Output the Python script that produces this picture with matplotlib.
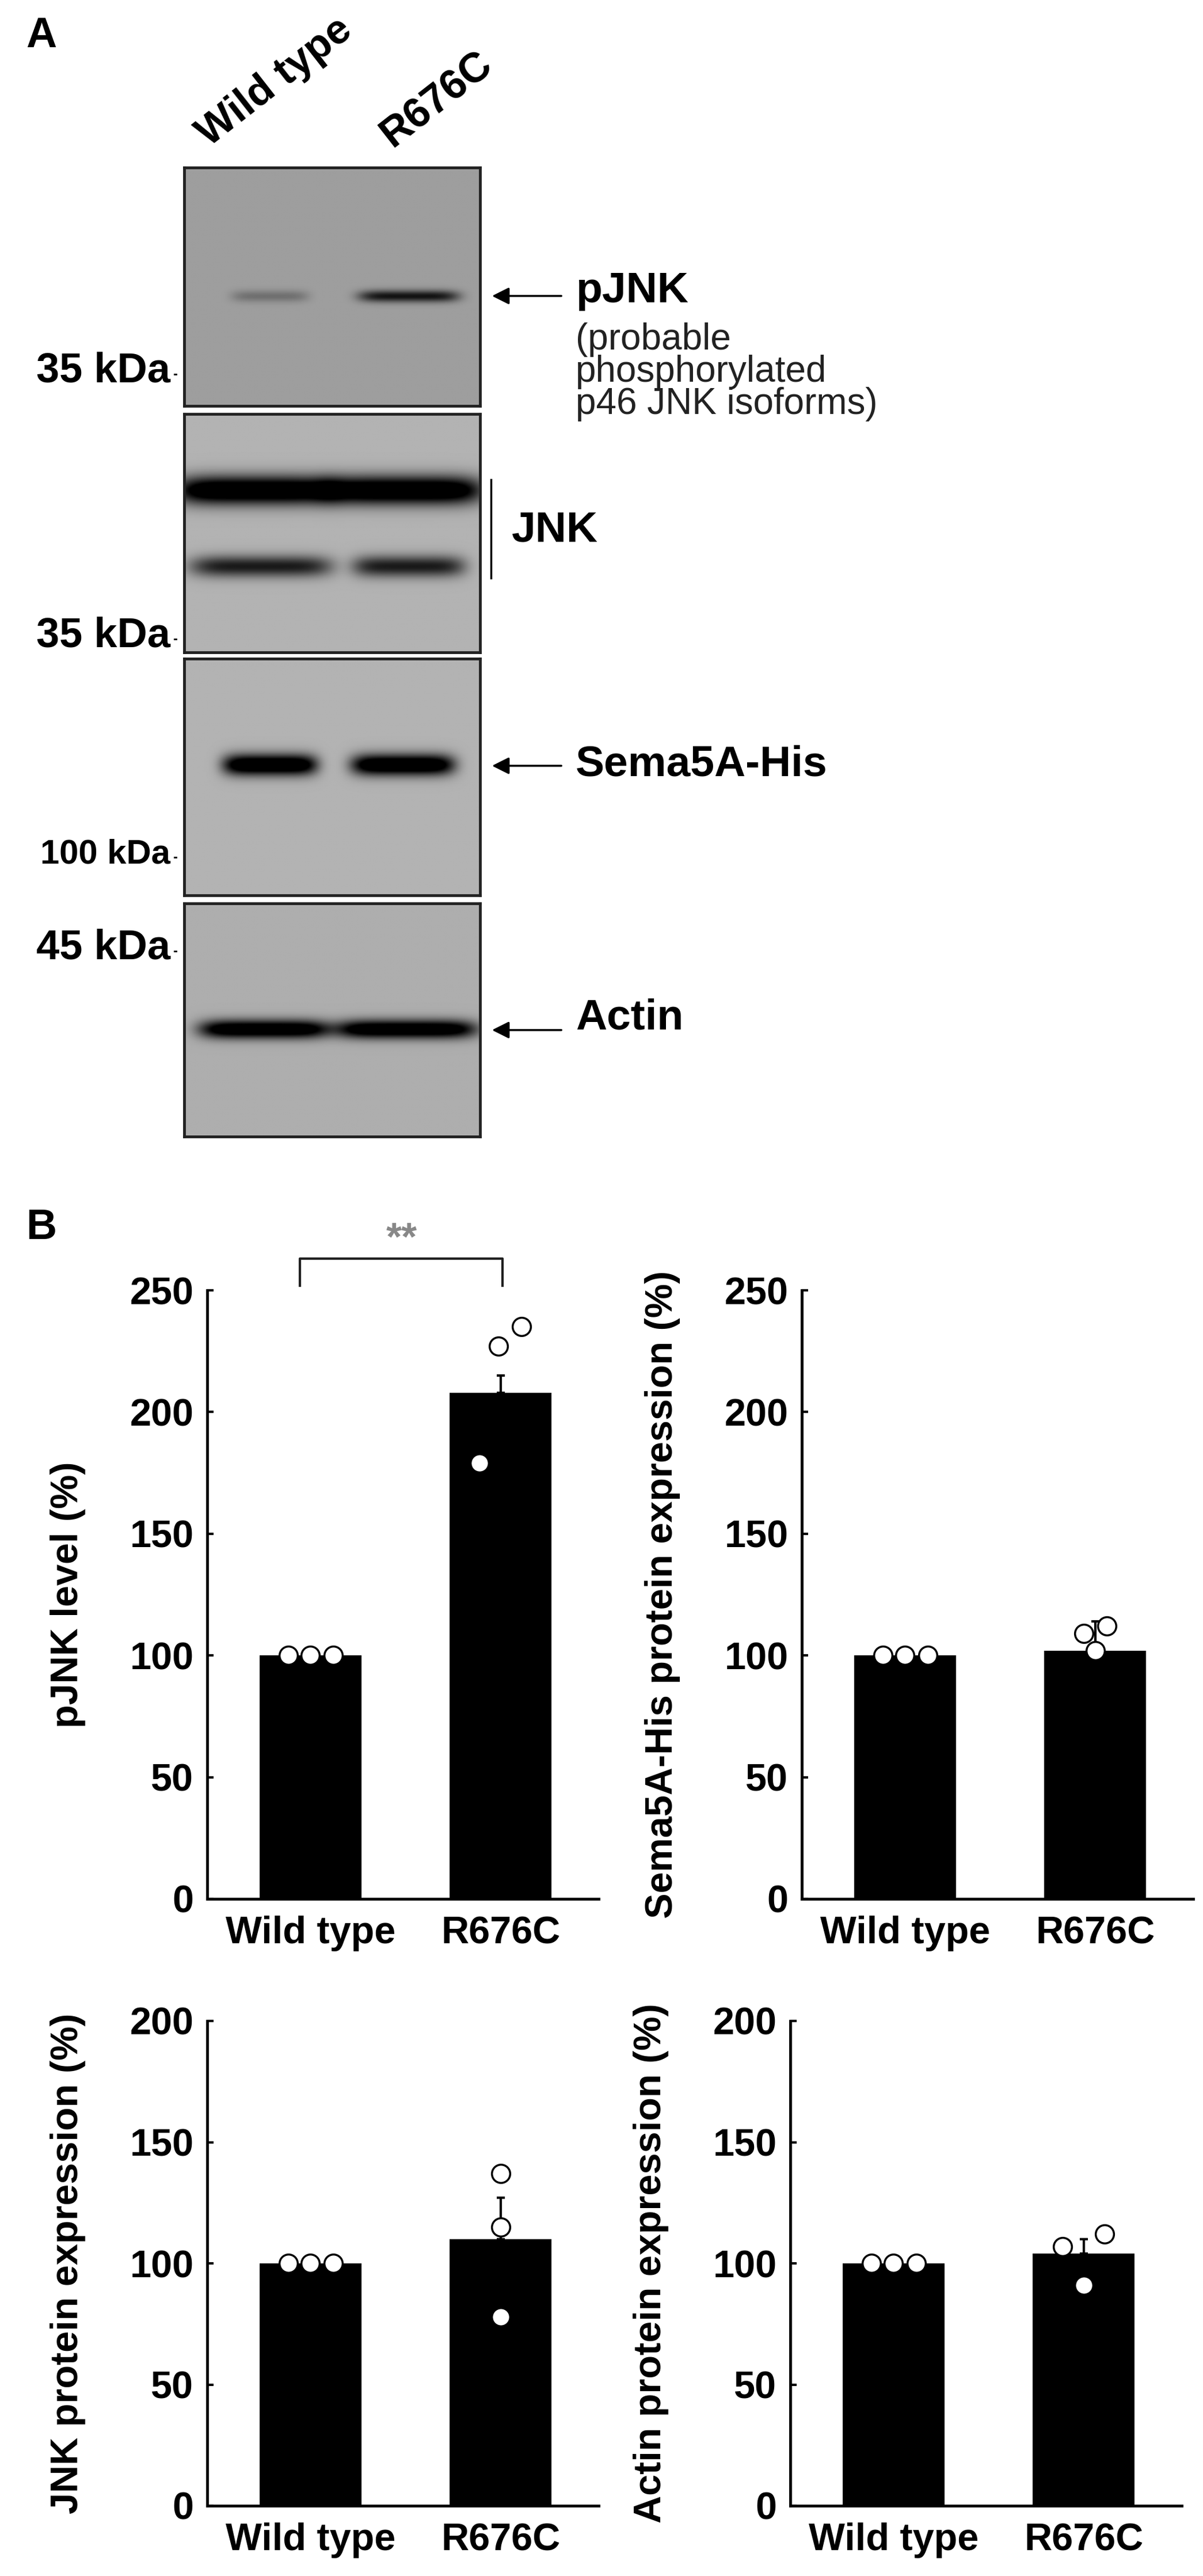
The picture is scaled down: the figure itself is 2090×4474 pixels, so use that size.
import numpy as np
import matplotlib
matplotlib.use("Agg")
import matplotlib.pyplot as plt

plt.rcParams['font.family'] = ['Liberation Sans', 'DejaVu Sans']

groups = ["Wild type", "R676C"]
pjnk_mean = [100, 208]; pjnk_err = [0, 7]
pjnk_pts = [[100, 100, 100], [179, 227, 235]]
sema_mean = [100, 102]; sema_err = [0, 12]
sema_pts = [[100, 100, 100], [109, 102, 112]]
jnk_mean = [100, 110]; jnk_err = [0, 17]
jnk_pts = [[100, 100, 100], [78, 115, 137]]
actin_mean = [100, 104]; actin_err = [0, 6]
actin_pts = [[100, 100, 100], [107, 91, 112]]
wt_offsets = [-0.115, 0.0, 0.12]
pjnk_offsets = [-0.11, -0.01, 0.11]
sema_offsets = [-0.06, 0.0, 0.06]
jnk_offsets = [0.0, 0.0, 0.0]
actin_offsets = [-0.11, 0.0, 0.11]

W, H = 2090.0, 4474.0
fig = plt.figure(figsize=(20.9, 44.74), dpi=100)

def ax_at(x0, y0, x1, y1, **kw):
    return fig.add_axes([x0 / W, 1 - y1 / H, (x1 - x0) / W, (y1 - y0) / H], **kw)

ov = ax_at(0, 0, W, H)
ov.set_xlim(0, W); ov.set_ylim(H, 0); ov.axis('off')
ov.set_zorder(5)

ov.text(45, 63, "A", fontsize=53, fontweight='bold', va='center')
ov.text(45, 2133, "B", fontsize=53, fontweight='bold', va='center')

# lane labels
ov.text(372, 268, "Wild type", rotation=38, fontsize=52, fontweight='bold', ha='left', va='bottom',
        rotation_mode='anchor')
ov.text(690, 268, "R676C", rotation=38, fontsize=52, fontweight='bold', ha='left', va='bottom',
        rotation_mode='anchor')

# blot panels
xg = np.linspace(0, 1, 400)
def blot(y0, y1, bg, bands):
    a = ax_at(320, y0, 834, y1)
    ny = 300
    yy = np.linspace(0, 1, ny)[:, None]
    img = np.full((ny, 400), bg)
    for (yc, sy, lanes) in bands:
        for (xc, sx, amp) in lanes:
            prof = np.exp(-((xg[None, :] - xc) / sx) ** 6)
            img -= amp * prof * np.exp(-((yy - yc) / sy) ** 2)
    a.imshow(np.clip(img, 0, 1), cmap='gray', vmin=0, vmax=1, aspect='auto', extent=[0, 1, 1, 0],
             interpolation='bilinear')
    a.set_xticks([]); a.set_yticks([])
    for s in a.spines.values():
        s.set_linewidth(3.5); s.set_color('#222')
    return a

blot(291, 705, 0.62, [(0.54, 0.025, [(0.29, 0.13, 0.18), (0.76, 0.17, 0.55)])])
blot(719, 1133, 0.70, [(0.32, 0.06, [(0.24, 0.27, 0.95), (0.74, 0.27, 0.95)]),
                       (0.64, 0.045, [(0.26, 0.24, 0.6), (0.76, 0.19, 0.6)])])
blot(1144, 1555, 0.70, [(0.45, 0.045, [(0.29, 0.16, 0.95), (0.74, 0.175, 0.95)])])
blot(1569, 1974, 0.68, [(0.54, 0.04, [(0.27, 0.22, 0.9), (0.75, 0.24, 0.9)])])

# kDa markers
def kda(y, txt, fs):
    ov.text(296, y, txt, fontsize=fs, fontweight='bold', ha='right', va='center')
    ov.plot([303, 306], [y + 5, y + 5], color='k', lw=2)
kda(645, "35 kDa", 52)
kda(1105, "35 kDa", 52)
kda(1484, "100 kDa", 43)
kda(1647, "45 kDa", 52)

def arrow(y, ty, txt):
    ov.annotate("", xy=(852, y), xytext=(978, y),
                arrowprops=dict(arrowstyle='-|>', color='k', lw=2.5, mutation_scale=45))
    ov.text(1000, ty, txt, fontsize=54, fontweight='bold', ha='left', va='center')
arrow(514, 505, "pJNK")
ov.text(1000, 560, "(probable\nphosphorylated\np46 JNK isoforms)", fontsize=46, ha='left', va='top',
        linespacing=0.92, color='#222')
ov.plot([853, 853], [833, 1004], color='k', lw=2.5)
ov.text(889, 921, "JNK", fontsize=54, fontweight='bold', ha='left', va='center')
arrow(1330, 1328, "Sema5A-His")
arrow(1789, 1768, "Actin")

# bar charts
def bars(box, means, errs, pts, offs, ymax, ylabel):
    a = ax_at(*box)
    x = np.arange(len(groups))
    a.bar(x, means, width=0.535, color='k', zorder=2)
    a.errorbar(x, means, yerr=[np.zeros(len(errs)), errs], fmt='none', ecolor='k',
               elinewidth=3, capsize=5, capthick=3, zorder=1)
    for i, p in enumerate(pts):
        o = wt_offsets if i == 0 else offs
        a.scatter(np.array(o) + i, p, s=520, facecolor='white', edgecolor='k',
                  linewidth=2.5, zorder=3, clip_on=False)
    a.set_xlim(-0.542, 1.515)
    a.set_ylim(0, ymax)
    a.set_yticks(np.arange(0, ymax + 1, 50))
    a.set_xticks(x)
    a.set_xticklabels(groups)
    for s in ['top', 'right']:
        a.spines[s].set_visible(False)
    a.spines['left'].set_linewidth(3.5)
    a.spines['bottom'].set_linewidth(3.5)
    a.tick_params(axis='y', direction='in', width=3, length=8, pad=17)
    a.tick_params(axis='x', length=0, pad=21)
    for lab in a.get_xticklabels() + a.get_yticklabels():
        lab.set_fontweight('bold')
        lab.set_fontsize(48)
    a.set_ylabel(ylabel, fontsize=48, fontweight='bold')
    a.yaxis.set_label_coords(-0.31, 0.5)
    a.patch.set_alpha(0)
    return a

a1 = bars((360, 2241, 1040, 3298), pjnk_mean, pjnk_err, pjnk_pts, pjnk_offsets, 250, "pJNK level (%)")
bars((1393, 2241, 2073, 3298), sema_mean, sema_err, sema_pts, sema_offsets, 250,
     "Sema5A-His protein expression (%)")
bars((360, 3510, 1040, 4352), jnk_mean, jnk_err, jnk_pts, jnk_offsets, 200, "JNK protein expression (%)")
bars((1373, 3510, 2053, 4352), actin_mean, actin_err, actin_pts, actin_offsets, 200,
     "Actin protein expression (%)")

# significance bracket
a1.plot([-0.055, -0.055, 1.01, 1.01], [252, 263, 263, 252], color='#222', lw=3, clip_on=False)
a1.text(0.48, 271, "**", fontsize=50, color='#888', ha='center', va='center', fontweight='bold')

fig.savefig("out.png", dpi=100)
